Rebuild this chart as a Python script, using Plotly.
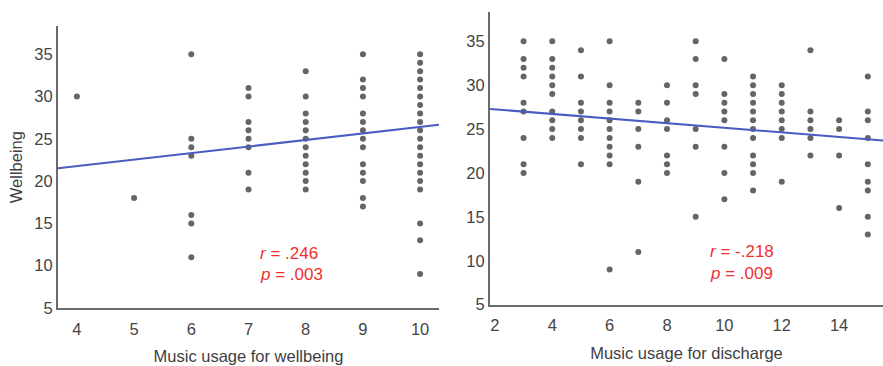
import plotly.graph_objects as go

# ---------------- data ----------------
wb_x = ([4] + [5] + [6]*7 + [7]*8 + [8]*12 + [9]*14 + [10]*20)
wb_y = ([30] +
        [18] +
        [35, 25, 24, 23, 16, 15, 11] +
        [31, 30, 27, 26, 25, 24, 21, 19] +
        [33, 30, 28, 27, 26, 25, 24, 23, 22, 21, 20, 19] +
        [35, 32, 31, 30, 28, 27, 26, 25, 24, 22, 21, 20, 18, 17] +
        [35, 34, 33, 32, 31, 30, 29, 28, 27, 26, 25, 24, 23, 22, 21, 20, 19, 15, 13, 9])

dc_x = ([3]*9 + [4]*10 + [5]*8 + [6]*11 + [7]*6 + [8]*7 + [9]*7 + [10]*8 +
        [11]*12 + [12]*8 + [13]*6 + [14]*4 + [15]*9)
dc_y = ([35, 33, 32, 31, 28, 27, 24, 21, 20] +
        [35, 33, 32, 31, 30, 29, 27, 26, 25, 24] +
        [34, 31, 28, 27, 26, 25, 24, 21] +
        [35, 30, 28, 27, 26, 25, 24, 23, 22, 21, 9] +
        [28, 27, 25, 23, 19, 11] +
        [30, 28, 26, 25, 22, 21, 20] +
        [35, 33, 30, 29, 25, 23, 15] +
        [33, 29, 28, 27, 26, 23, 20, 17] +
        [31, 30, 29, 28, 27, 26, 25, 24, 22, 21, 20, 18] +
        [30, 29, 28, 27, 26, 25, 24, 19] +
        [34, 27, 26, 25, 24, 22] +
        [26, 25, 22, 16] +
        [31, 27, 26, 24, 21, 19, 18, 15, 13])

# fitted lines (slope, intercept)
wb_slope, wb_intercept = 0.77, 18.7
dc_slope, dc_intercept = -0.263, 27.78

wb_stats = ["<i>r</i> = .246", "<i>p</i> = .003"]
dc_stats = ["<i>r</i> = -.218", "<i>p</i> = .009"]

wb_xticks = [4, 5, 6, 7, 8, 9, 10]
dc_xticks = [2, 4, 6, 8, 10, 12, 14]
yticks = [5, 10, 15, 20, 25, 30, 35]

wb_xrange = [3.67, 10.33]
dc_xrange = [1.83, 15.53]
yrange = [5, 38.3]

# ---------------- figure ----------------
W, H = 883, 366
FONT = "Arial, Liberation Sans, sans-serif"
DOT = "#656565"
LINE = "#4a5cc0"
RED = "#f03030"
AXIS = "#6a6a6a"

fig = go.Figure()

fig.add_trace(go.Scatter(x=wb_x, y=wb_y, mode="markers",
                         marker=dict(size=6, color=DOT),
                         xaxis="x", yaxis="y", showlegend=False))
fig.add_trace(go.Scatter(x=wb_xrange,
                         y=[wb_intercept + wb_slope * v for v in wb_xrange],
                         mode="lines", line=dict(color=LINE, width=2),
                         xaxis="x", yaxis="y", showlegend=False))

fig.add_trace(go.Scatter(x=dc_x, y=dc_y, mode="markers",
                         marker=dict(size=6, color=DOT),
                         xaxis="x2", yaxis="y2", showlegend=False))
fig.add_trace(go.Scatter(x=dc_xrange,
                         y=[dc_intercept + dc_slope * v for v in dc_xrange],
                         mode="lines", line=dict(color=LINE, width=2),
                         xaxis="x2", yaxis="y2", showlegend=False))

axis_common = dict(showgrid=False, zeroline=False, showline=True,
                   linecolor=AXIS, linewidth=2, ticks="",
                   tickfont=dict(family=FONT, size=16.5, color="#444444"))
title_font = dict(family=FONT, size=16.5, color="#404040")

fig.update_layout(
    width=W, height=H,
    margin=dict(l=0, r=0, t=0, b=0),
    paper_bgcolor="white", plot_bgcolor="white",
    font=dict(family=FONT),
    xaxis=dict(domain=[58 / W, 439 / W], range=wb_xrange,
               tickvals=wb_xticks, anchor="y", ticklabelstandoff=5,
               title=dict(text="Music usage for wellbeing", standoff=14,
                          font=title_font),
               **axis_common),
    yaxis=dict(domain=[1 - 315.7 / H, 1 - 27 / H], range=yrange,
               tickvals=yticks, anchor="x",
               title=dict(text="Wellbeing", standoff=8, font=title_font),
               **axis_common),
    xaxis2=dict(domain=[490 / W, 1.0], range=dc_xrange,
                tickvals=dc_xticks, anchor="y2", ticklabelstandoff=5,
                title=dict(text="Music usage for discharge", standoff=14,
                           font=title_font),
                **axis_common),
    yaxis2=dict(domain=[1 - 312.3 / H, 1 - 12.7 / H], range=yrange,
                tickvals=yticks, anchor="x2",
                **axis_common),
)

for txt, yv in zip(wb_stats, [11.4, 8.9]):
    fig.add_annotation(x=7.17, y=yv, xref="x", yref="y", text=txt,
                       showarrow=False, xanchor="left", yanchor="middle",
                       font=dict(family=FONT, size=17, color=RED))
for txt, yv in zip(dc_stats, [11.07, 8.6]):
    fig.add_annotation(x=9.43, y=yv, xref="x2", yref="y2", text=txt,
                       showarrow=False, xanchor="left", yanchor="middle",
                       font=dict(family=FONT, size=17, color=RED))

fig.write_html("out.html")
